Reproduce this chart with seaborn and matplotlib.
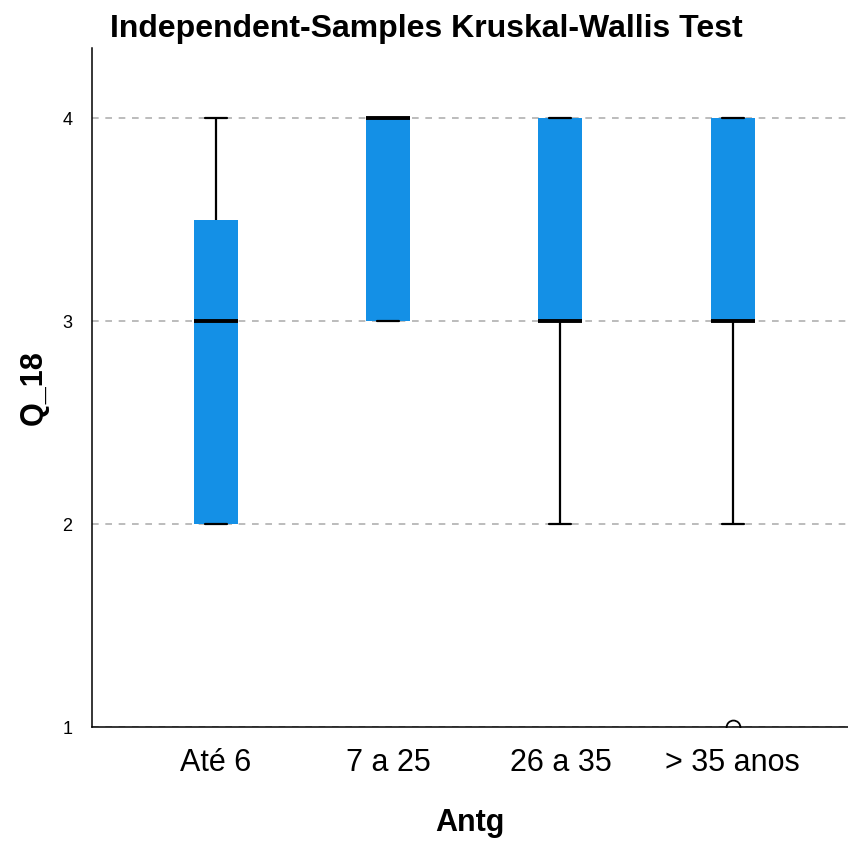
import pandas as pd
import matplotlib
matplotlib.use('Agg')
import matplotlib.pyplot as plt
import seaborn as sns

# 数据
groups = ['Até 6', '7 a 25', '26 a 35', '> 35 anos']
ate_6 = [2, 2, 2, 3, 3, 4, 4]
de_7_a_25 = [3, 3, 4, 4, 4]
de_26_a_35 = [2, 3, 3, 3, 4, 4, 4]
mais_35 = [1, 2, 3, 3, 3, 3, 3, 4, 4, 4, 4]
y_ticks = [1, 2, 3, 4]

values = [ate_6, de_7_a_25, de_26_a_35, mais_35]
data = pd.DataFrame({
    'Antg': [g for g, v in zip(groups, values) for _ in v],
    'Q_18': [x for v in values for x in v],
})

sns.set_style('white')
plt.rcParams['font.family'] = ['Liberation Sans', 'DejaVu Sans']
plt.rcParams['text.color'] = 'black'
plt.rcParams['axes.labelcolor'] = 'black'
plt.rcParams['xtick.color'] = 'black'
plt.rcParams['ytick.color'] = 'black'

fig = plt.figure(figsize=(8.48, 8.43), dpi=100)
ax = fig.add_axes([0.1085, 0.1376, 0.8915, 0.8054])

box_color = '#1490E6'
sns.boxplot(data=data, x='Antg', y='Q_18', order=groups, ax=ax, width=0.256,
            color=box_color, saturation=1, whis=1.5,
            boxprops=dict(facecolor=box_color, edgecolor=box_color, linewidth=0),
            medianprops=dict(color='black', linewidth=2.8),
            whiskerprops=dict(color='black', linewidth=1.6),
            capprops=dict(color='black', linewidth=1.6),
            flierprops=dict(marker='o', markersize=10, markerfacecolor='none',
                            markeredgecolor='black', markeredgewidth=1.3))

ax.set_ylim(1, 4.345)
ax.set_xlim(-0.72, 3.67)
ax.set_yticks(y_ticks)
ax.yaxis.grid(True, linestyle=(0, (4, 4)), color='#b0b0b0', linewidth=1.2)
ax.set_axisbelow(True)
for s in ['top', 'right']:
    ax.spines[s].set_visible(False)
for s in ['left', 'bottom']:
    ax.spines[s].set_color('black')
    ax.spines[s].set_linewidth(1.1)
ax.tick_params(axis='y', length=0, labelsize=13, pad=14)
ax.tick_params(axis='x', length=0, labelsize=22, pad=15)

ax.set_title('Independent-Samples Kruskal-Wallis Test', fontsize=23,
             fontweight='bold', x=0.442, y=1.0, pad=8)
ax.set_xlabel('Antg', fontsize=22, fontweight='bold', labelpad=22)
ax.set_ylabel('Q_18', fontsize=22, fontweight='bold', labelpad=10)

plt.savefig('out.png', dpi=100)
